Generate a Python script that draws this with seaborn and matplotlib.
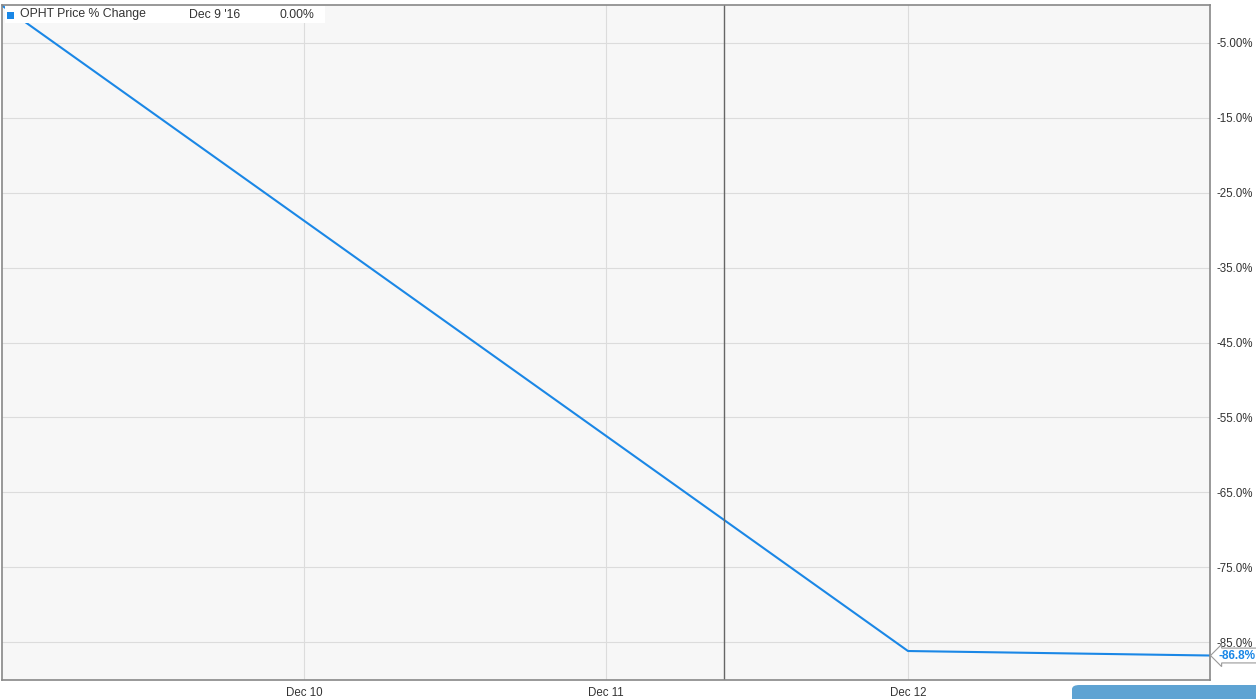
import matplotlib
matplotlib.use("Agg")
import matplotlib.pyplot as plt
from matplotlib.patches import FancyBboxPatch
import seaborn as sns
import pandas as pd

# Data
dates = ["2016-12-09", "2016-12-12", "2016-12-13"]
pct_change = [0.0, -86.2, -86.8]
ytick_vals = [-5, -15, -25, -35, -45, -55, -65, -75, -85]
ytick_labels = ["-5.00%", "-15.0%", "-25.0%", "-35.0%", "-45.0%", "-55.0%", "-65.0%", "-75.0%", "-85.0%"]
xtick_dates = ["2016-12-10", "2016-12-11", "2016-12-12"]
xtick_labels = ["Dec 10", "Dec 11", "Dec 12"]
series_name = "OPHT Price % Change"
legend_date = "Dec 9 '16"
legend_value = "0.00%"
last_label = "-86.8%"
crosshair = "2016-12-11 09:23"

df = pd.DataFrame({"date": pd.to_datetime(dates), "pct": pct_change})

sns.set_theme(style="white")
plt.rcParams['font.family'] = ['Liberation Sans', 'DejaVu Sans']

W, H = 1256, 699
fig = plt.figure(figsize=(W / 100, H / 100), dpi=100)
fig.patch.set_facecolor("white")
ax = fig.add_axes([2 / W, (H - 680) / H, (1210 - 2) / W, (680 - 5) / H])
ax.set_facecolor("#f7f7f7")

line_color = "#1a87e6"
sns.lineplot(data=df, x="date", y="pct", ax=ax, color=line_color, linewidth=1.5)

ax.set_xlim(pd.Timestamp("2016-12-09"), pd.Timestamp("2016-12-13"))
ax.set_ylim(-90.07, 0.07)

ax.set_yticks(ytick_vals)
ax.set_yticklabels(ytick_labels)
ax.set_xticks(pd.to_datetime(xtick_dates))
ax.set_xticklabels(xtick_labels)
ax.yaxis.tick_right()
ax.tick_params(axis="y", length=0, pad=5, labelsize=8.3, labelcolor="#333333")
ax.tick_params(axis="x", length=0, pad=5, labelsize=8.3, labelcolor="#333333")
ax.grid(True, color="#dcdcdc", linewidth=0.8)
ax.set_axisbelow(True)
ax.set_xlabel("")
ax.set_ylabel("")
for side in ["left", "right", "top", "bottom"]:
    ax.spines[side].set_visible(True)
    ax.spines[side].set_color("#888888")
    ax.spines[side].set_linewidth(1.2)

ax.axvline(pd.Timestamp(crosshair), color="#666666", linewidth=1.0)

# Legend box
fig.patches.append(FancyBboxPatch((5 / W, 1 - 23 / H), 320 / W, 17 / H, boxstyle="square,pad=0",
                                  transform=fig.transFigure, facecolor="white",
                                  edgecolor="none", zorder=5))
fig.patches.append(FancyBboxPatch((7 / W, 1 - 18.5 / H), 7 / W, 7 / H, boxstyle="square,pad=0",
                                  transform=fig.transFigure, facecolor=line_color,
                                  edgecolor="none", zorder=6))
fig.text(20 / W, 1 - 14.5 / H, series_name, fontsize=8.8, color="#333333", va="center", zorder=7)
fig.text(189 / W, 1 - 14.5 / H, legend_date, fontsize=8.8, color="#333333", va="center", zorder=7)
fig.text(280 / W, 1 - 14.5 / H, legend_value, fontsize=8.8, color="#333333", va="center", zorder=7)

# Last value label
ax.annotate(last_label, xy=(1.0, -86.8), xycoords=("axes fraction", "data"),
            xytext=(6, 0), textcoords="offset points", va="center", ha="left",
            fontsize=8.5, fontweight="bold", color=line_color, annotation_clip=False,
            bbox=dict(boxstyle="larrow,pad=0.12", facecolor="white", edgecolor="#999999", linewidth=0.8))

# Bottom-right button (cut off)
fig.patches.append(FancyBboxPatch((1072 / W, -10 / H), 200 / W, 24 / H,
                                  boxstyle="round,pad=0,rounding_size=0.006",
                                  transform=fig.transFigure, facecolor="#5ea3d3",
                                  edgecolor="none", zorder=5))

fig.savefig("out.png", dpi=100, facecolor="white")
